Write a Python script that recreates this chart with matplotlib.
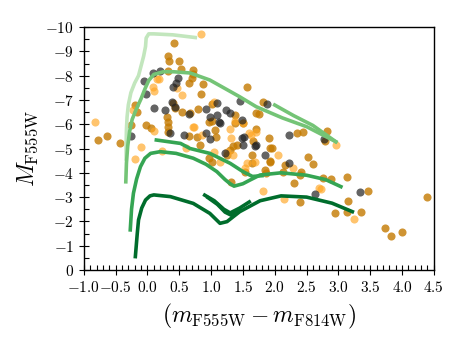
import matplotlib
matplotlib.use("Agg")
import matplotlib.pyplot as plt
import numpy as np

plt.rcParams['font.family'] = 'serif'
plt.rcParams['font.serif'] = ['cmr10']
plt.rcParams['mathtext.fontset'] = 'cm'
plt.rcParams['axes.formatter.use_mathtext'] = True

# isochrones (colour, magnitude)
iso_a_x = [-0.335, -0.335, -0.33, -0.32, -0.30, -0.26, -0.20, -0.14, -0.10, -0.06, -0.03, -0.02, 0.02, 0.10, 0.40, 0.78]
iso_a_m = [-4.5, -5.2, -5.8, -6.3, -6.8, -7.3, -7.7, -8.0, -8.4, -8.8, -9.2, -9.55, -9.72, -9.72, -9.68, -9.56]

iso_b_x = [-0.34, -0.33, -0.31, -0.28, -0.24, -0.17, -0.10, -0.04, 0.02, 0.10, 0.25, 0.41, 0.67, 0.98, 1.45, 1.71, 2.12, 2.50, 2.96]
iso_b_m = [-3.63, -4.4, -5.1, -5.7, -6.2, -6.65, -7.05, -7.45, -7.8, -8.05, -8.16, -8.16, -8.11, -7.82, -7.13, -6.72, -6.26, -5.90, -5.28]
iso_b2_x = [2.00, 2.30, 2.60, 2.96]
iso_b2_m = [-6.79, -6.35, -5.95, -5.28]

iso_c_x = [-0.27, -0.25, -0.22, -0.17, -0.11, -0.04, 0.05, 0.20, 0.45, 0.72, 0.92, 1.09, 1.22, 1.30, 1.36, 1.50, 1.61, 1.77, 2.1, 2.5, 2.8, 3.04]
iso_c_m = [-1.65, -2.5, -3.16, -3.75, -4.25, -4.6, -4.80, -4.87, -4.80, -4.60, -4.35, -4.05, -3.72, -3.55, -3.45, -3.55, -3.70, -3.91, -4.00, -3.90, -3.72, -3.43]
iso_c2_x = [0.14, 0.52, 0.67, 0.98, 1.30, 1.50, 1.65, 1.80]
iso_c2_m = [-5.35, -5.21, -5.00, -4.80, -4.39, -4.05, -3.85, -3.88]

iso_d_x = [-0.19, -0.16, -0.14, -0.09, -0.03, 0.04, 0.10, 0.36, 0.72, 0.98, 1.14, 1.25, 1.45, 1.77, 2.1, 2.5, 2.9, 3.22]
iso_d_m = [-0.55, -1.5, -2.06, -2.55, -2.88, -3.05, -3.09, -3.02, -2.74, -2.33, -1.92, -1.99, -2.40, -2.85, -3.05, -3.00, -2.75, -2.40]
iso_d2_x = [0.90, 1.05, 1.20, 1.30, 1.45, 1.60]
iso_d2_m = [-3.08, -2.85, -2.50, -2.35, -2.55, -2.80]
iso_d3_x = [0.95, 1.10, 1.22, 1.32, 1.45]
iso_d3_m = [-2.98, -2.70, -2.38, -2.25, -2.45]

# stars
grey_x = [0.08, 0.20, -0.05, 0.48, 0.40, 0.45, -0.02, 1.45, 0.39, 0.11, 0.27, 0.92, 1.09, 1.23, 1.30,
          -0.26, 0.36, 0.58, 0.92, 0.98, 1.14, 1.48, 1.52, 1.88, 2.22, 1.69, 0.98, 1.10, 1.13, 1.48,
          1.50, 1.71, 1.22, 1.84, 2.23, 2.77, 2.63, 3.34, 0.43, 0.65]
grey_m = [-8.09, -8.19, -7.80, -7.89, -7.52, -7.71, -7.24, -6.97, -6.90, -6.65, -6.58, -6.63, -6.86, -6.58, -6.45,
          -5.51, -5.62, -5.56, -5.65, -6.28, -6.04, -5.42, -5.49, -6.82, -5.56, -5.10, -5.38, -6.38, -6.08, -6.17,
          -5.14, -5.14, -4.80, -4.73, -4.39, -5.38, -3.13, -3.20, -6.70, -6.41]

dark_x = [0.42, 0.32, 0.34, 0.49, 0.53, 0.32, 0.72, 0.71, 0.65, 0.70, 0.88, 0.84, 1.56, 0.40, 0.44,
          0.55, 0.79, 1.01, 1.38, -0.20, -0.16, -0.77, -0.64, -0.43, -0.26, -0.03, 0.05, 0.30, 0.33, 0.32,
          0.32, 0.65, 0.78, 0.97, 1.06, 1.38, 1.50, 1.71, 1.82, 1.75, 2.35, 2.45, 1.91, 1.70, 1.66,
          1.92, 1.40, 1.08, 0.67, 1.01, 0.83, 1.25, 1.30, 1.35, 1.64, 1.96, 1.92, 2.16, 2.13, 2.42,
          2.39, 2.52, 2.60, 2.30, 0.96, 1.01, 1.53, 1.87, 1.84, 1.32, 2.40, 2.82, 2.79, 1.93, 2.76,
          2.88, 3.13, 3.46, 4.39, 3.15, 2.94, 3.13, 3.35, 3.73, 3.82, 4.00, 1.64]
dark_m = [-9.35, -8.82, -8.61, -8.61, -8.26, -8.19, -8.23, -8.06, -7.71, -7.89, -7.65, -7.24, -7.54, -6.86, -6.65,
          -6.49, -6.61, -6.83, -6.38, -6.79, -6.49, -5.35, -5.51, -5.24, -5.97, -5.97, -5.83, -6.31, -6.10, -5.90,
          -5.69, -5.51, -5.49, -6.08, -5.76, -6.04, -6.04, -6.45, -6.93, -6.41, -5.62, -5.69, -5.42, -5.79, -5.32,
          -5.01, -5.14, -5.49, -6.45, -6.14, -5.14, -4.73, -4.95, -5.10, -4.73, -5.01, -4.46, -4.32, -4.05, -4.05,
          -3.91, -4.66, -4.35, -3.57, -4.60, -4.46, -4.05, -3.98, -4.12, -3.63, -2.79, -5.73, -5.32, -4.49, -3.77,
          -3.73, -3.81, -3.25, -3.02, -2.85, -2.33, -2.37, -2.37, -1.74, -1.41, -1.58, -4.39]

light_x = [0.84, 0.15, 0.18, 0.08, 0.11, 0.47, 0.55, 1.04, -0.22, -0.82, -0.10, 0.11, 0.73, 1.29, 1.31,
           1.63, 1.71, 1.60, 0.72, 0.85, 1.38, 1.50, 1.25, 1.35, 2.05, 2.29, 1.04, 1.14, 1.56, 1.69,
           1.82, 2.15, 2.97, 2.69, 2.73, 3.25, -0.20, 0.23, 0.61, 1.53]
light_m = [-9.71, -7.85, -7.85, -7.54, -7.37, -7.48, -7.20, -6.90, -6.58, -6.10, -5.06, -5.73, -5.87, -5.80, -5.42,
           -5.56, -5.69, -5.62, -5.90, -5.56, -6.13, -6.04, -4.87, -4.73, -4.73, -4.18, -4.87, -4.46, -4.39, -4.46,
           -3.26, -2.91, -5.14, -3.36, -3.32, -2.09, -4.57, -4.91, -5.01, -4.18]

fig = plt.figure(figsize=(4.63, 3.47), dpi=100)
ax = fig.add_axes([0.181, 0.222, 0.756, 0.70])

lw = 2.6
ax.plot(iso_a_x, iso_a_m, color='#c2e6bd', lw=lw, solid_capstyle='butt')
ax.plot(iso_b_x, iso_b_m, color='#74c476', lw=lw)
ax.plot(iso_b2_x, iso_b2_m, color='#74c476', lw=lw)
ax.plot(iso_c_x, iso_c_m, color='#35a553', lw=lw)
ax.plot(iso_c2_x, iso_c2_m, color='#35a553', lw=lw)
ax.plot(iso_d_x, iso_d_m, color='#006d2c', lw=lw)
ax.plot(iso_d2_x, iso_d2_m, color='#006d2c', lw=lw)
ax.plot(iso_d3_x, iso_d3_m, color='#006d2c', lw=lw)

ms = 34
ax.scatter(dark_x, dark_m, s=ms, color='#c47a00', alpha=0.8, lw=0)
ax.scatter(light_x, light_m, s=ms, color='#ffa520', alpha=0.65, lw=0)
ax.scatter(grey_x, grey_m, s=ms, color='#222222', alpha=0.7, lw=0)

ax.set_xlim(-1.0, 4.5)
ax.set_ylim(0, -10)
ax.set_xticks(np.arange(-1.0, 4.51, 0.5))
ax.set_xticks(np.arange(-1.0, 4.51, 0.1), minor=True)
ax.set_yticks(np.arange(0, -10.1, -1))
ax.set_yticks(np.arange(0, -10.1, -0.5), minor=True)
ax.xaxis.set_major_formatter(matplotlib.ticker.FormatStrFormatter('$%.1f$'))
ax.yaxis.set_major_formatter(matplotlib.ticker.FormatStrFormatter('$%d$'))
ax.tick_params(which='major', direction='inout', length=7, width=0.8, labelsize=11)
ax.tick_params(which='minor', direction='in', length=3.5, width=0.8)
for s in ax.spines.values():
    s.set_linewidth(1.0)

ax.set_xlabel(r'$(m_{\rm F555W}-m_{\rm F814W})$', fontsize=17, labelpad=5)
ax.set_ylabel(r'$M_{\rm F555W}$', fontsize=17, labelpad=4)

fig.savefig('out.png', dpi=100)
